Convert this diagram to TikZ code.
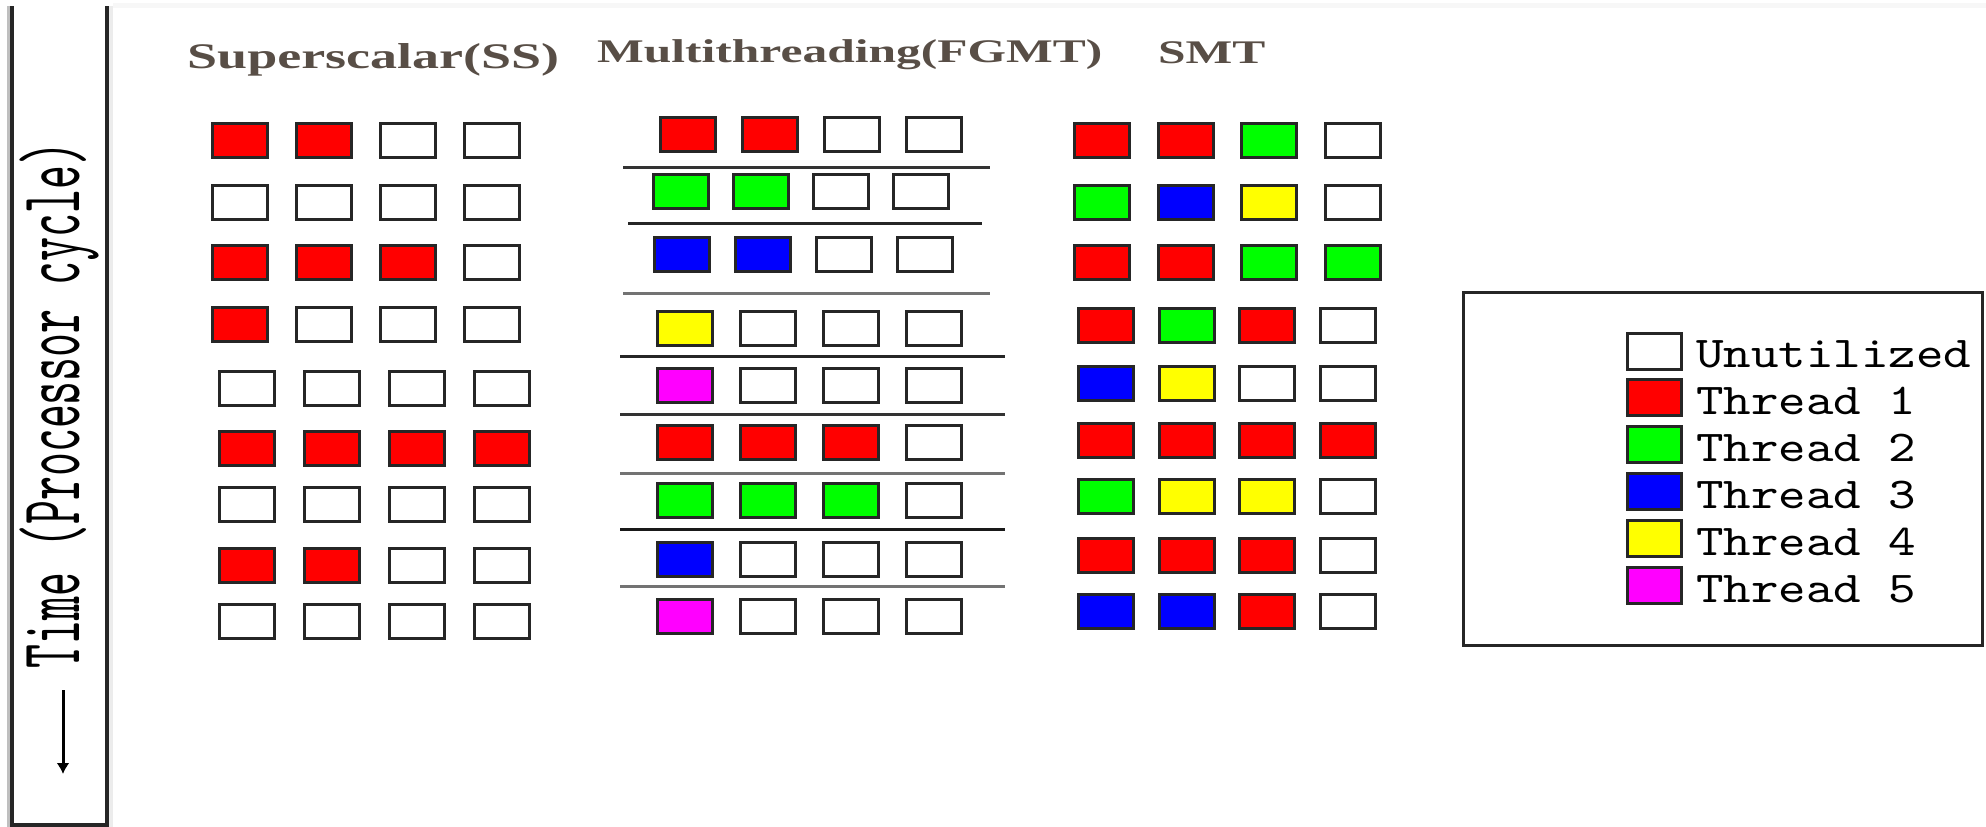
\documentclass[tikz,border=0pt]{standalone}
\usepackage{fontspec}
\usetikzlibrary{arrows.meta,positioning}

\newfontfamily\headfont{Liberation Serif}[FakeStretch=1.5]
\newfontfamily\keyfont{lmmono10-regular.otf}[FakeStretch=1.19]
\newfontfamily\timefont{lmmono10-regular.otf}[FakeStretch=0.53]

% 0 = empty issue slot, 1..5 = threads
\definecolor{th0}{RGB}{255,255,255}
\definecolor{th1}{RGB}{255,0,0}
\definecolor{th2}{RGB}{0,255,0}
\definecolor{th3}{RGB}{0,0,255}
\definecolor{th4}{RGB}{255,255,0}
\definecolor{th5}{RGB}{255,0,255}
\definecolor{headcol}{RGB}{88,78,70}

\tikzset{
	slot/.style={draw=black!85,line width=3pt,minimum width=55pt,minimum height=34pt,inner sep=0pt},
	head/.style={anchor=base west,inner sep=0pt,text=headcol},
	key/.style={anchor=base west,inner sep=0pt,font=\keyfont\fontsize{44}{48}\selectfont},
	cutline/.style={line width=3pt}
}

\begin{document}
\begin{tikzpicture}[x=1pt,y=-1pt]
	\useasboundingbox (0,0) rectangle (1986,827);
	\draw[gray!6,line width=5pt] (113,5) -- (1986,5);

	% time axis on the left
	\draw[gray!50,line width=3pt] (8.5,6) -- (8.5,827);
	\draw[gray!15,line width=4pt] (111,6) -- (111,827);
	\draw[black!85,line width=4pt] (12,6) -- (12,825) -- (107,825) -- (107,6);
	\node[rotate=90,anchor=base,inner sep=0pt,font=\timefont\fontsize{86}{90}\selectfont] (time) at (79,405) {Time (Processor cycle)};
	\coordinate (tfrom) at (63,690);
	\coordinate (tto) at (63,774);
	\draw[-{Latex[length=11pt,width=13pt]},line width=3pt] (tfrom) -- (tto);

	% headings
	\node[head,font=\headfont\bfseries\fontsize{36}{40}\selectfont] (ss) at (187,68) {Superscalar(SS)};
	\node[head,font=\headfont\bfseries\fontsize{33}{38}\selectfont] (fgmt) at (597,62) {Multithreading(FGMT)};
	\node[head,font=\headfont\bfseries\fontsize{33}{38}\selectfont] (smt) at (1158,63) {SMT};

	% superscalar
	\foreach \r/\y/\x/\d/\slots in {
		1/140/240/84/{1,1,0,0},
		2/202/240/84/{0,0,0,0},
		3/262/240/84/{1,1,1,0},
		4/324/240/84/{1,0,0,0},
		5/388/247/85/{0,0,0,0},
		6/448/247/85/{1,1,1,1},
		7/504/247/85/{0,0,0,0},
		8/565/247/85/{1,1,0,0},
		9/621/247/85/{0,0,0,0}}
		\foreach \s [count=\c] in \slots
			\node[slot,fill=th\s] (ss-\r-\c) at (\x+\d*\c-\d,\y) {};

	% fine grained multithreading
	\foreach \r/\y/\x/\d/\slots in {
		1/134/688/82/{1,1,0,0},
		2/191/681/80/{2,2,0,0},
		3/254/682/81/{3,3,0,0},
		4/328/685/83/{4,0,0,0},
		5/385/685/83/{5,0,0,0},
		6/442/685/83/{1,1,1,0},
		7/500/685/83/{2,2,2,0},
		8/559/685/83/{3,0,0,0},
		9/616/685/83/{5,0,0,0}}
		\foreach \s [count=\c] in \slots
			\node[slot,fill=th\s] (fg-\r-\c) at (\x+\d*\c-\d,\y) {};
	\foreach \y/\a/\b/\g in {167/623/990/80,223/628/982/85,293/623/990/55,356/620/1005/85,
		414/620/1005/80,473/620/1005/55,529/620/1005/90,586/620/1005/55}
		\draw[cutline,black!\g] (\a,\y) -- (\b,\y);

	% simultaneous multithreading
	\foreach \r/\y/\x/\d/\slots in {
		1/140/1102/83.5/{1,1,2,0},
		2/202/1102/83.5/{2,3,4,0},
		3/262/1102/83.5/{1,1,2,2},
		4/325/1106/80.5/{1,2,1,0},
		5/383/1106/80.5/{3,4,0,0},
		6/440/1106/80.5/{1,1,1,1},
		7/496/1106/80.5/{2,4,4,0},
		8/555/1106/80.5/{1,1,1,0},
		9/611/1106/80.5/{3,3,1,0}}
		\foreach \s [count=\c] in \slots
			\node[slot,fill=th\s] (smt-\r-\c) at (\x+\d*\c-\d,\y) {};

	% legend
	\draw[black!85,line width=3pt] (1463,292) rectangle (1982,645);
	\foreach \t/\txt [count=\i from 0] in {0/Unutilized,1/Thread 1,2/Thread 2,3/Thread 3,4/Thread 4,5/Thread 5}{
		\node[slot,minimum width=54pt,minimum height=36pt,fill=th\t] (key-\t) at (1654.5,351+46.9*\i) {};
		\node[key,right=13pt of key-\t.south east,anchor=base west,yshift=3pt] (lbl-\t) {\txt};
	}
\end{tikzpicture}
\end{document}
